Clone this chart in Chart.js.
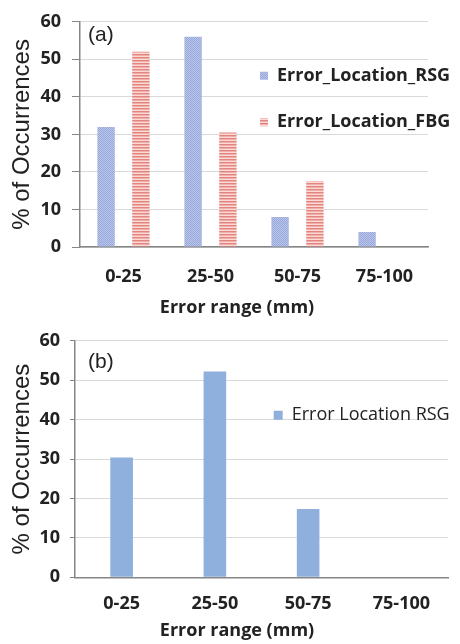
<!DOCTYPE html>
<html><head><meta charset="utf-8">
<script src="https://cdn.jsdelivr.net/npm/chart.js@4.4.1/dist/chart.umd.min.js"></script>
<style>
html,body{margin:0;padding:0;background:#fff;}
#wrap{width:460px;height:644px;position:relative;overflow:hidden;}
.box{position:absolute;left:0;width:460px;}
</style></head><body>
<div id="wrap">
<div class="box" style="top:0;height:320px"><canvas id="c1"></canvas></div>
<div class="box" style="top:320px;height:324px"><canvas id="c2"></canvas></div>
</div>
<script>
// ---- data ----
const categories = ['0-25', '25-50', '50-75', '75-100'];
const rsgA = [32, 56, 8, 4];
const fbgA = [52, 30.5, 17.5, 0];
const rsgB = [30.4, 52.2, 17.3, 0];
const seriesNamesA = ['Error_Location_RSG', 'Error_Location_FBG'];
const seriesNameB = 'Error Location RSG';
const yMin = 0, yMax = 60, yStep = 10;
const panelA = '(a)', panelB = '(b)';
const yTitle = '% of Occurrences';
const xTitle = 'Error range (mm)';

// ---- styles ----
function makePattern(w, h, paint) {
  const c = document.createElement('canvas'); c.width = w; c.height = h;
  const g = c.getContext('2d'); paint(g);
  return g.createPattern(c, 'repeat');
}
const rsgPattern = makePattern(2, 2, g => {
  g.fillStyle = '#b7c3e8'; g.fillRect(0, 0, 2, 2);
  g.fillStyle = '#9aabdb'; g.fillRect(0, 0, 1, 1); g.fillRect(1, 1, 1, 1);
});
const fbgPattern = makePattern(3, 3, g => {
  g.fillStyle = '#e4847f'; g.fillRect(0, 0, 3, 1);
  g.fillStyle = '#f0aeaa'; g.fillRect(0, 1, 3, 1);
  g.fillStyle = '#f9dad6'; g.fillRect(0, 2, 3, 1);
});
const blueB = '#8fb0dc';
const axisColor = '#868686', gridColor = '#d9d9d9', textColor = '#222';
const boldFont = {family: 'Open Sans', weight: 'bold', size: 18};

function legendMover(left, top) {
  return {
    id: 'legendMover',
    afterLayout(chart) {
      const L = chart.legend; if (!L) return;
      L.left = left; L.top = top; L.right = chart.width; L.bottom = chart.chartArea.bottom;
      L.width = L.right - L.left; L.height = L.bottom - L.top;
      if (L.adjustHitBoxes) L.adjustHitBoxes();
    }
  };
}
function panelLabel(txt, dx, dy) {
  return {
    id: 'panelLabel',
    afterDraw(chart) {
      const {ctx, chartArea} = chart;
      ctx.save();
      ctx.font = '21px "Liberation Sans"';
      ctx.fillStyle = textColor; ctx.textBaseline = 'middle'; ctx.textAlign = 'left';
      ctx.fillText(txt, chartArea.left + dx, chartArea.top + dy);
      ctx.restore();
    }
  };
}
function yScale(width, tickLen, tickPad, titlePadTop) {
  return {
    position: 'left',
    min: yMin, max: yMax,
    ticks: {stepSize: yStep, color: textColor, font: boldFont, padding: tickPad},
    grid: {color: gridColor, lineWidth: 1, tickColor: axisColor, tickLength: tickLen, drawTicks: true},
    border: {display: true, color: axisColor, width: 1.5},
    title: {display: true, text: yTitle, color: textColor,
            font: {family: 'Liberation Sans', size: 24}, padding: {top: titlePadTop, bottom: 0}},
    afterFit(s) { s.width = width; }
  };
}
function spacerScale(width) {
  return {
    position: 'right', display: true, min: 0, max: 1,
    ticks: {display: false}, grid: {display: false, drawTicks: false},
    border: {display: false}, title: {display: false},
    afterFit(s) { s.width = width; }
  };
}
function xScale(height, pad) {
  return {
    grid: {display: false, drawTicks: false},
    border: {display: true, color: axisColor, width: 1.5},
    ticks: {color: textColor, font: boldFont, padding: pad, maxRotation: 0, autoSkip: false},
    afterFit(s) { s.height = height; }
  };
}

// ---- chart (a) ----
new Chart(document.getElementById('c1'), {
  type: 'bar',
  data: {
    labels: categories,
    datasets: [
      {label: seriesNamesA[0], data: rsgA, backgroundColor: rsgPattern, borderWidth: 0,
       categoryPercentage: 0.8, barPercentage: 0.5},
      {label: seriesNamesA[1], data: fbgA, backgroundColor: fbgPattern, borderWidth: 0,
       categoryPercentage: 0.8, barPercentage: 0.5}
    ]
  },
  options: {
    responsive: true, maintainAspectRatio: false, animation: false,
    layout: {padding: {left: 14, right: 0, top: 18, bottom: 1.4}},
    scales: {x: xScale(50, 19.5), y: yScale(66, 8, 11, -5.9), y2: spacerScale(32)},
    plugins: {
      legend: {position: 'chartArea', align: 'start',
        labels: {boxWidth: 8, boxHeight: 8, padding: 28.5, color: textColor, font: boldFont}},
      title: {display: true, position: 'bottom', text: xTitle, color: textColor,
        font: boldFont, padding: {top: 0, bottom: 0}},
      tooltip: {enabled: false}
    }
  },
  plugins: [legendMover(231.5, 38.3), panelLabel(panelA, 8, 13.7)]
});

// ---- chart (b) ----
new Chart(document.getElementById('c2'), {
  type: 'bar',
  data: {
    labels: categories,
    datasets: [
      {label: seriesNameB, data: rsgB, backgroundColor: blueB, borderWidth: 0,
       categoryPercentage: 1, barPercentage: 0.2425}
    ]
  },
  options: {
    responsive: true, maintainAspectRatio: false, animation: false,
    layout: {padding: {left: 14, right: 0, top: 20.7, bottom: 2.2}},
    scales: {x: xScale(42.9, 15.7), y: yScale(61, 5, 10, -5.9), y2: spacerScale(12)},
    plugins: {
      legend: {position: 'chartArea', align: 'start',
        labels: {boxWidth: 9, boxHeight: 9, padding: 10, color: textColor,
                 font: {family: 'Open Sans', weight: 'normal', size: 18}}},
      title: {display: true, position: 'bottom', text: xTitle, color: textColor,
        font: boldFont, padding: {top: 0, bottom: 0}},
      tooltip: {enabled: false}
    }
  },
  plugins: [legendMover(263.7, 76.3), panelLabel(panelB, 13, 21.8)]
});
</script>
</body></html>
